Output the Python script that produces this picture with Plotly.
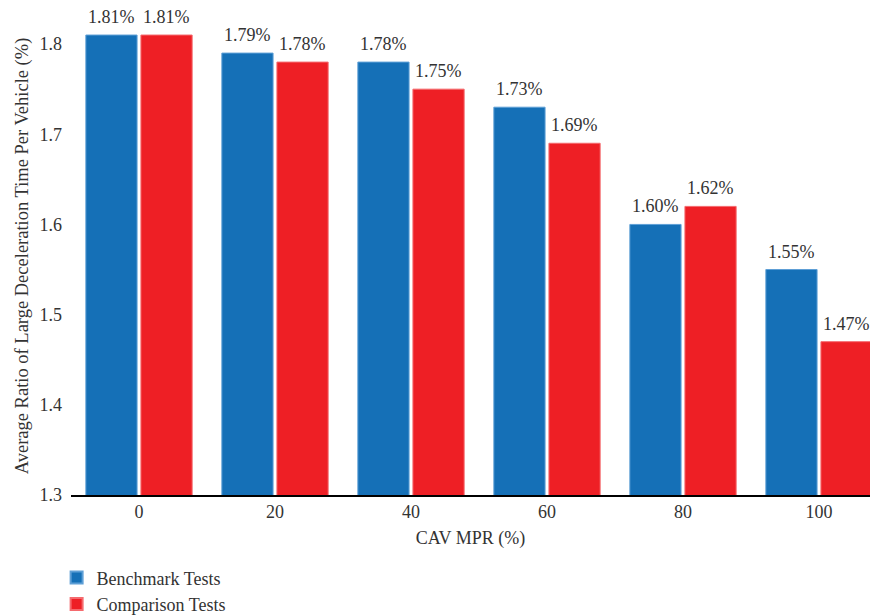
import plotly.graph_objects as go

# CAV market penetration rates (%) on the x axis
mpr = ["0", "20", "40", "60", "80", "100"]
# Average ratio of large deceleration time per vehicle (%)
benchmark = [1.81, 1.79, 1.78, 1.73, 1.60, 1.55]
comparison = [1.81, 1.78, 1.75, 1.69, 1.62, 1.47]
y_ticks = [1.3, 1.4, 1.5, 1.6, 1.7, 1.8]

FONT = "Liberation Serif"
TEXT_COLOR = "#333333"
BLUE = "#1570B7"
RED = "#EE1F25"
FS = 18
BARGAP = 0.19

pos = list(range(len(mpr)))
series = [
    ("Benchmark Tests", benchmark, BLUE, "#5E9FD6"),
    ("Comparison Tests", comparison, RED, "#F56A6E"),
]

fig = go.Figure()
for name, vals, color, edge in series:
    fig.add_trace(go.Bar(
        x=pos, y=vals, name=name,
        marker=dict(color=color, line=dict(color=edge, width=1)),
        cliponaxis=False,
    ))

# value labels above each bar (grouped bars sit at +/- half a slot from the category centre)
slot = (1 - BARGAP) / len(series)
for i, (name, vals, color, edge) in enumerate(series):
    shift = (i - (len(series) - 1) / 2) * slot
    for p, v in zip(pos, vals):
        fig.add_annotation(
            x=p + shift, y=v, xref="x", yref="y",
            text=f"{v:.2f}%", showarrow=False,
            yanchor="bottom", yshift=6,
            font=dict(family=FONT, size=FS, color=TEXT_COLOR),
        )

fig.update_layout(
    width=870, height=616,
    margin=dict(l=71, r=0, t=17, b=121),
    paper_bgcolor="white", plot_bgcolor="white",
    barmode="group", bargap=BARGAP, bargroupgap=0.07,
    font=dict(family=FONT, size=FS, color=TEXT_COLOR),
    showlegend=True,
    legend=dict(
        orientation="v", x=-0.018, xanchor="left",
        yref="container", y=0.092, yanchor="top",
        font=dict(family=FONT, size=FS, color=TEXT_COLOR),
        itemsizing="constant", tracegroupgap=0,
        bgcolor="rgba(0,0,0,0)",
    ),
)
fig.update_xaxes(
    tickmode="array", tickvals=pos, ticktext=mpr,
    range=[-0.5, 5.375], automargin=False,
    showline=True, linecolor="black", linewidth=1.5,
    showgrid=False, zeroline=False, ticks="",
    tickfont=dict(family=FONT, size=FS, color=TEXT_COLOR),
    title=dict(text="CAV MPR (%)", font=dict(family=FONT, size=FS, color=TEXT_COLOR), standoff=10),
)
fig.update_yaxes(
    range=[1.3, 1.83], automargin=False,
    tickvals=y_ticks, ticktext=[f"{t:.1f}" for t in y_ticks],
    showline=False, showgrid=False, zeroline=False, ticks="",
    ticklabelstandoff=8,
    tickfont=dict(family=FONT, size=FS, color=TEXT_COLOR),
    title=dict(text="Average Ratio of Large Deceleration Time Per Vehicle (%)",
               font=dict(family=FONT, size=18.5, color=TEXT_COLOR), standoff=6),
)

fig.write_html("out.html")
